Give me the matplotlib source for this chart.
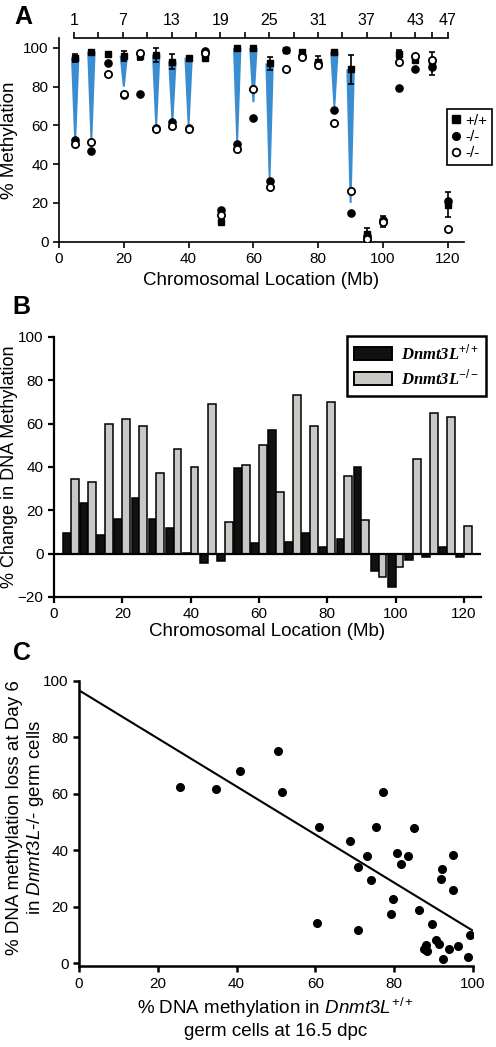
import matplotlib
matplotlib.use("Agg")
import matplotlib.pyplot as plt
from matplotlib.patches import Patch, Polygon
from matplotlib.lines import Line2D
import numpy as np

plt.rcParams['font.family'] = ['Liberation Sans', 'DejaVu Sans']
plt.rcParams['mathtext.fontset'] = 'custom'
plt.rcParams['mathtext.rm'] = 'Liberation Sans'
plt.rcParams['mathtext.it'] = 'Liberation Sans:italic'
plt.rcParams['mathtext.bf'] = 'Liberation Sans:bold'

# ---- Panel A: methylation per locus ----
loc_mb = [5, 10, 15, 20, 25, 30, 35, 40, 45, 50, 55, 60,
          65, 70, 75, 80, 85, 90, 95, 100, 105, 110, 115, 120]
wt_meth = [95, 98, 97, 96, 96, 96.5, 93, 95, 95, 10, 100, 100,
           92, 99, 98, 93, 98, 89, 4, 10.5, 97, 94, 92, 19]
wt_err = [2, 0, 0, 2.5, 2, 3.5, 4, 0, 0, 0, 0, 0,
          3.5, 0, 0, 3, 0, 7.5, 3, 3, 2, 2, 6, 6.5]
ko1_meth = [52.5, 47, 92.5, 75.5, 76.5, 58.5, 62, 58.5, 98.5, 16.5, 50.5, 64,
            31.5, 99, 96, 92, 68, 15, 3, 11, 79.5, 89, 90, 21]
ko2_meth = [50.5, 51.5, 86.5, 76.5, 97.5, 58, 59.5, 58, 97.5, 14, 48, 79,
            28, 89, 95.5, 91, 61.5, 26, 1.5, 10, 93, 96, 94, 6.5]
# bottom of the blue loss wedge (None = no wedge)
wedge_end = [52, 53, None, 80, None, 60, 62, 60, None, None, 52, 72,
             33, None, None, None, 70, 20, None, None, None, None, None, None]

locus_major = [1, 7, 13, 19, 25, 31, 37, 43, 47]
locus_minor = [4, 10, 16, 22, 28, 34, 40, 45]

# ---- Panel B: change in methylation ----
wt_change = [9.7, 23.2, 8.8, 16.2, 25.5, 15.9, 11.9, 0.5, -4.2, -3.2, 39.4, 5.1,
             57.2, 5.4, 9.4, 2.9, 6.6, 39.9, -8.2, -15.6, -3.1, -1.7, 3.2, -1.4]
ko_change = [34.3, 32.9, 59.8, 62.3, 58.7, 37.4, 48.5, 39.9, 69, 14.8, 40.8, 50.2,
             28.4, 73.1, 58.9, 70, 35.9, 15.6, -10.8, -6.2, 43.7, 64.8, 63.2, 13]

# ---- Panel C: scatter ----
wt_16dpc = [25.6, 34.8, 40.9, 50.4, 51.4, 77.2, 60.9, 75.3, 85.1, 68.7, 73.0, 70.7,
            74.0, 80.8, 81.7, 83.4, 94.8, 92.1, 91.8, 94.8, 79.8, 79.1, 86.3, 60.3,
            70.7, 89.6, 99.2, 88.0, 87.6, 88.3, 90.5, 91.4, 93.9, 96.3, 92.5, 98.8]
loss_day6 = [62.4, 61.6, 68.0, 75.1, 60.5, 60.6, 48.3, 48.2, 47.9, 43.3, 37.9, 34.1,
             29.4, 38.9, 35.1, 37.9, 38.4, 33.3, 29.7, 25.9, 22.6, 17.4, 18.8, 14.4,
             11.8, 14.0, 10.0, 6.5, 4.9, 4.5, 8.2, 6.7, 4.9, 6.1, 1.4, 2.3]
fit_intercept = 96.6
fit_slope = -0.851

W, H = 496, 1047
fig = plt.figure(figsize=(W / 100, H / 100), dpi=100)


def box(l, t, r, b):
    return [l / W, 1 - b / H, (r - l) / W, (b - t) / H]


def style(ax, lw):
    for s in ['top', 'right']:
        ax.spines[s].set_visible(False)
    for s in ['left', 'bottom']:
        ax.spines[s].set_linewidth(lw)
    ax.tick_params(labelsize=11, width=lw, length=4, direction='out')


# Panel A
axA = fig.add_axes(box(59, 38.3, 464, 241.7))
style(axA, 1.2)
for x, top, bot in zip(loc_mb, wt_meth, wedge_end):
    if bot is None:
        continue
    poly = Polygon([(x - 1.3, top), (x + 1.3, top), (x + 0.3, bot), (x - 0.3, bot)],
                   closed=True, facecolor='#3a8dd0', edgecolor='none', zorder=1)
    axA.add_patch(poly)
err = [e if e > 0 else np.nan for e in wt_err]
axA.errorbar(loc_mb, wt_meth, yerr=err, fmt='none', ecolor='black',
             elinewidth=1.2, capsize=2.5, capthick=1.2, zorder=2)
axA.plot(loc_mb, wt_meth, 's', color='black', ms=5, zorder=3)
axA.plot(loc_mb, ko1_meth, 'o', color='black', ms=5.2, zorder=4)
axA.plot(loc_mb, ko2_meth, 'o', mfc='white', mec='black', mew=1.3, ms=5.2, zorder=5)
axA.set_xlim(0, 125)
axA.set_ylim(0, 105)
axA.set_xticks([0, 20, 40, 60, 80, 100, 120])
axA.set_yticks([0, 20, 40, 60, 80, 100])
axA.set_xlabel('Chromosomal Location (Mb)', fontsize=13.5)
axA.set_ylabel('% Methylation', fontsize=13.5, labelpad=4)

handlesA = [Line2D([], [], marker='s', ls='none', color='black', ms=5.5),
            Line2D([], [], marker='o', ls='none', color='black', ms=5.5),
            Line2D([], [], marker='o', ls='none', mfc='white', mec='black', mew=1.3, ms=5.5)]
legA = fig.legend(handlesA, ['+/+', '-/-', '-/-'], loc='upper left',
                  bbox_to_anchor=(447 / W, 1 - 109 / H), fontsize=11,
                  handlelength=0.6, handletextpad=0.3, borderpad=0.3, borderaxespad=0,
                  labelspacing=0.15, fancybox=False, edgecolor='black', framealpha=1)
legA.get_frame().set_linewidth(1.2)

# locus number scale above panel A
axT = fig.add_axes([74 / W, 1 - 38.3 / H - 0.001, (448 - 74) / W, 0.001])
axT.patch.set_visible(False)
for s in ['left', 'right', 'bottom']:
    axT.spines[s].set_visible(False)
axT.spines['top'].set_linewidth(1.2)
axT.set_xlim(1, 47)
axT.set_yticks([])
axT.xaxis.tick_top()
axT.set_xticks(locus_major)
axT.set_xticks(locus_minor, minor=True)
axT.tick_params(axis='x', which='both', labelsize=11.5, width=1.2, length=4, direction='out')

# Panel B
axB = fig.add_axes(box(54, 337, 481, 597))
style(axB, 1.6)
xb_wt = [x - 1.15 for x in loc_mb]
xb_ko = [x + 1.15 for x in loc_mb]
axB.bar(xb_wt, wt_change, width=2.3, color='#111111', edgecolor='black', linewidth=1.1, zorder=2)
axB.bar(xb_ko, ko_change, width=2.3, color='#c8c8c4', edgecolor='black', linewidth=1.1, zorder=2)
axB.axhline(0, color='black', lw=1.6, zorder=3)
axB.set_xlim(0, 125)
axB.set_ylim(-20, 100)
axB.set_xticks([0, 20, 40, 60, 80, 100, 120])
axB.set_yticks([-20, 0, 20, 40, 60, 80, 100])
axB.set_xlabel('Chromosomal Location (Mb)', fontsize=13.5, labelpad=1)
axB.set_ylabel('% Change in DNA Methylation', fontsize=13, labelpad=0)

handlesB = [Patch(facecolor='#111111', edgecolor='black', lw=1.4),
            Patch(facecolor='#c8c8c4', edgecolor='black', lw=1.4)]
legB = fig.legend(handlesB, ['Dnmt3L$^{+/+}$', 'Dnmt3L$^{-/-}$'], loc='upper right',
                  bbox_to_anchor=(486 / W, 1 - 336 / H),
                  prop={'family': 'Liberation Serif', 'weight': 'bold', 'style': 'italic', 'size': 12},
                  handlelength=2.3, handleheight=0.75, handletextpad=0.5, borderpad=0.45,
                  borderaxespad=0, labelspacing=0.3, fancybox=False, edgecolor='black',
                  framealpha=1)
legB.get_frame().set_linewidth(1.8)

# Panel C
axC = fig.add_axes(box(79, 680.7, 473, 966.1))
style(axC, 1.8)
axC.plot(wt_16dpc, loss_day6, 'o', color='black', ms=5.5, zorder=3)
xs = np.array([0, 100])
axC.plot(xs, fit_intercept + fit_slope * xs, color='black', lw=1.5, zorder=2)
axC.set_xlim(0, 100)
axC.set_ylim(-1, 100)
axC.set_xticks([0, 20, 40, 60, 80, 100])
axC.set_yticks([0, 20, 40, 60, 80, 100])
axC.set_xlabel('% DNA methylation in $\\mathit{Dnmt3L}^{+/+}$\ngerm cells at 16.5 dpc',
               fontsize=13.5, linespacing=1.2)
axC.set_ylabel('% DNA methylation loss at Day 6\nin $\\mathit{Dnmt3L}$-/- germ cells',
               fontsize=13.5, linespacing=1.07)
axC.yaxis.set_label_coords(-0.085, 0.52)

# panel letters
for lab, x, y in [('A', 23, 17), ('B', 21, 307), ('C', 22, 653)]:
    fig.text(x / W, 1 - y / H, lab, fontsize=18, fontweight='bold', ha='center', va='center')

fig.savefig('out.png', dpi=100)
